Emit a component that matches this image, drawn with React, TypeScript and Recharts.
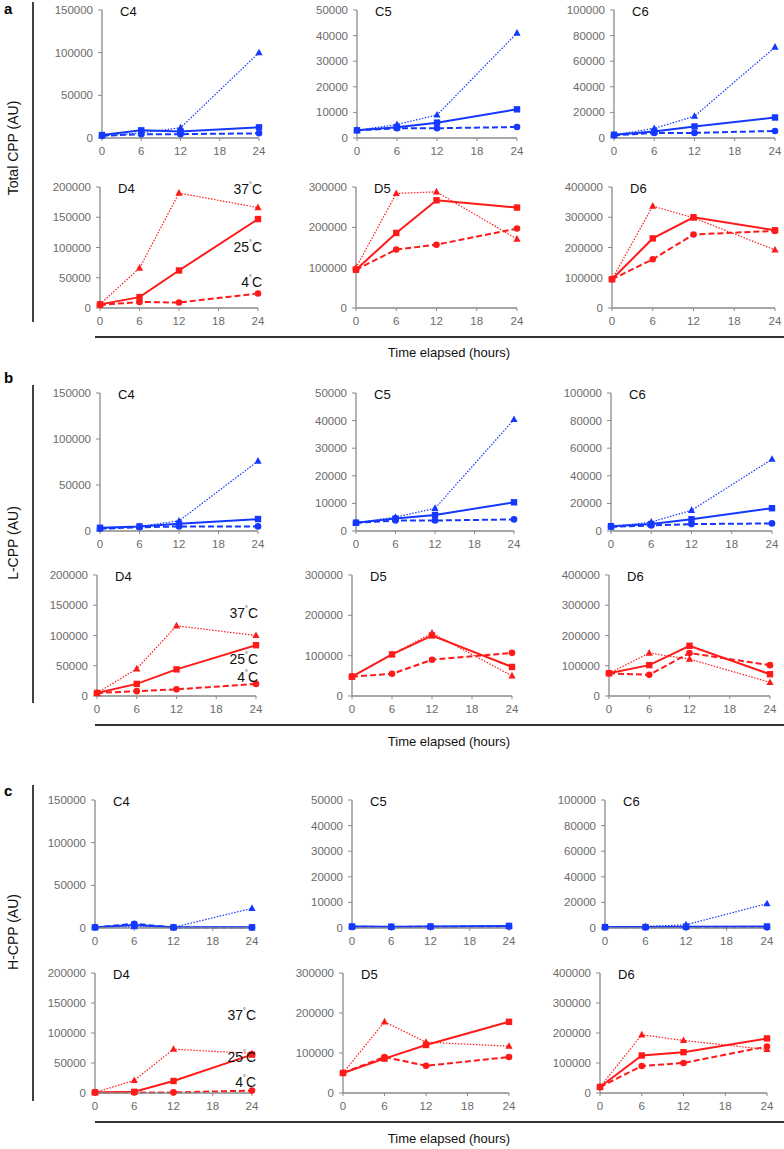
import { LineChart, Line, XAxis, YAxis } from 'recharts'

const HOURS = [0, 6, 12, 24]
const HOUR_TICKS = [0, 6, 12, 18, 24]

const TICKS_150K = [0, 50000, 100000, 150000]
const TICKS_50K = [0, 10000, 20000, 30000, 40000, 50000]
const TICKS_100K = [0, 20000, 40000, 60000, 80000, 100000]
const TICKS_200K = [0, 50000, 100000, 150000, 200000]
const TICKS_300K = [0, 100000, 200000, 300000]
const TICKS_400K = [0, 100000, 200000, 300000, 400000]

// a: Total CPP  (25 = solid/square, 4 = dashed/circle, 37 = dotted/triangle)
const totC4_25 = [3500, 9000, 7500, 12500]
const totC4_4 = [2500, 4500, 4500, 5500]
const totC4_37 = [2500, 6000, 12000, 100000]
const totC5_25 = [3000, 4200, 6000, 11200]
const totC5_4 = [3000, 3800, 3800, 4300]
const totC5_37 = [3000, 5300, 9000, 41000]
const totC6_25 = [2500, 5000, 9000, 16000]
const totC6_4 = [2000, 4000, 4000, 5500]
const totC6_37 = [2500, 7500, 17000, 71000]
const totD4_25 = [6000, 18000, 62000, 147000]
const totD4_4 = [5000, 10000, 9000, 24000]
const totD4_37 = [6000, 66000, 190000, 166000]
const totD5_25 = [95000, 186000, 267000, 249000]
const totD5_4 = [95000, 145000, 157000, 197000]
const totD5_37 = [100000, 284000, 288000, 171000]
const totD6_25 = [95000, 230000, 300000, 257000]
const totD6_4 = [95000, 161000, 243000, 255000]
const totD6_37 = [95000, 337000, 298000, 192000]

// b: L-CPP
const lowC4_25 = [3500, 5000, 8000, 13000]
const lowC4_4 = [2500, 4000, 5000, 5000]
const lowC4_37 = [2500, 5000, 11000, 76000]
const lowC5_25 = [3000, 4500, 5800, 10400]
const lowC5_4 = [3000, 3800, 3800, 4200]
const lowC5_37 = [3000, 5000, 8200, 40400]
const lowC6_25 = [3500, 5000, 8500, 16500]
const lowC6_4 = [3000, 4000, 5000, 5500]
const lowC6_37 = [3000, 6500, 15000, 52000]
const lowD4_25 = [5000, 20000, 44000, 84000]
const lowD4_4 = [5000, 8000, 11000, 20000]
const lowD4_37 = [5000, 45000, 116000, 100000]
const lowD5_25 = [48000, 103000, 150000, 72000]
const lowD5_4 = [48000, 55000, 90000, 107000]
const lowD5_37 = [48000, 103000, 156000, 50000]
const lowD6_25 = [75000, 102000, 166000, 72000]
const lowD6_4 = [75000, 70000, 142000, 102000]
const lowD6_37 = [75000, 142000, 122000, 45000]

// c: H-CPP
const highC4_25 = [800, 3500, 800, 800]
const highC4_4 = [500, 5000, 500, 500]
const highC4_37 = [800, 1500, 800, 23000]
const highC5_25 = [600, 500, 600, 800]
const highC5_4 = [500, 400, 500, 600]
const highC5_37 = [400, 400, 500, 700]
const highC6_25 = [700, 700, 1000, 1200]
const highC6_4 = [500, 500, 600, 600]
const highC6_37 = [700, 1200, 2500, 19000]
const highD4_25 = [1000, 2000, 20000, 64000]
const highD4_4 = [1000, 1000, 1000, 4000]
const highD4_37 = [1000, 21000, 73000, 66000]
const highD5_25 = [50000, 86000, 120000, 178000]
const highD5_4 = [50000, 90000, 68000, 90000]
const highD5_37 = [50000, 178000, 127000, 117000]
const highD6_25 = [20000, 125000, 136000, 182000]
const highD6_4 = [20000, 90000, 100000, 155000]
const highD6_37 = [20000, 194000, 175000, 145000]

const BLUE = '#1438ff'
const RED = '#ff1a1a'
const AXIS = '#8a8a8a'
const TICK = '#6b6b6b'
const FONT = "'Liberation Sans', Arial, sans-serif"

const YW = 70
const XH = 26
const MT = 8
const MR = 8

type ChartSpec = {
  title: string
  ax: number
  ex: number
  top: number
  zero: number
  ticks: number[]
  color: string
  s25: number[]
  s4: number[]
  s37: number[]
}

const square = (color: string) => (p: any) =>
  p.cx == null ? <g key={p.index} /> : (
    <rect key={p.index} x={p.cx - 3.2} y={p.cy - 3.2} width={6.4} height={6.4} fill={color} />
  )
const circle = (color: string) => (p: any) =>
  p.cx == null ? <g key={p.index} /> : <circle key={p.index} cx={p.cx} cy={p.cy} r={3.3} fill={color} />
const triangle = (color: string) => (p: any) =>
  p.cx == null ? <g key={p.index} /> : (
    <path key={p.index} d={`M${p.cx},${p.cy - 4} L${p.cx + 3.6},${p.cy + 2.6} L${p.cx - 3.6},${p.cy + 2.6} Z`} fill={color} />
  )

function SmallChart({ spec }: { spec: ChartSpec }) {
  const { ax, ex, top, zero, ticks, color, s25, s4, s37 } = spec
  const w = YW + (ex - ax) + MR
  const h = MT + (zero - top) + XH
  const data = HOURS.map((t, i) => ({ t, a: s25[i], b: s4[i], c: s37[i] }))
  const tickStyle = { fontSize: 11.5, fill: TICK, fontFamily: FONT }
  return (
    <div style={{ position: 'absolute', left: ax - YW, top: top - MT, width: w, height: h }}>
      <LineChart width={w} height={h} data={data} margin={{ top: MT, right: MR, bottom: 0, left: 0 }} style={{ overflow: 'visible' }}>
        <XAxis
          type="number"
          dataKey="t"
          domain={[0, 24]}
          ticks={HOUR_TICKS}
          interval={0}
          height={XH}
          tick={tickStyle}
          tickSize={3}
          tickMargin={6}
          axisLine={{ stroke: AXIS, strokeWidth: 1.3 }}
          tickLine={{ stroke: AXIS }}
        />
        <YAxis
          type="number"
          domain={[0, ticks[ticks.length - 1]]}
          ticks={ticks}
          interval={0}
          width={YW}
          tick={tickStyle}
          tickSize={4}
          tickMargin={5}
          axisLine={{ stroke: AXIS, strokeWidth: 1.3 }}
          tickLine={{ stroke: AXIS }}
        />
        <Line dataKey="c" stroke={color} strokeWidth={1.2} strokeDasharray="1.5 1.5" dot={triangle(color)} isAnimationActive={false} />
        <Line dataKey="b" stroke={color} strokeWidth={2} strokeDasharray="6 3" dot={circle(color)} isAnimationActive={false} />
        <Line dataKey="a" stroke={color} strokeWidth={2} dot={square(color)} isAnimationActive={false} />
      </LineChart>
    </div>
  )
}

type Panel = {
  letter: string
  ylabel: string
  letterY: number
  barTop: number
  barBottom: number
  ylabelY: number
  lineY: number
  xlabelY: number
  tempX: number
  tempY: number[]
  charts: ChartSpec[]
}

const PANELS: Panel[] = [
  {
    letter: 'a', ylabel: 'Total CPP (AU)', letterY: 8, barTop: 2, barBottom: 322, ylabelY: 148,
    lineY: 337, xlabelY: 352, tempX: 262, tempY: [189, 247, 282],
    charts: [
      { title: 'C4', ax: 102, ex: 259, top: 10, zero: 138, ticks: TICKS_150K, color: BLUE, s25: totC4_25, s4: totC4_4, s37: totC4_37 },
      { title: 'C5', ax: 357, ex: 517, top: 10, zero: 138, ticks: TICKS_50K, color: BLUE, s25: totC5_25, s4: totC5_4, s37: totC5_37 },
      { title: 'C6', ax: 614, ex: 775, top: 10, zero: 138, ticks: TICKS_100K, color: BLUE, s25: totC6_25, s4: totC6_4, s37: totC6_37 },
      { title: 'D4', ax: 100, ex: 258, top: 187, zero: 308, ticks: TICKS_200K, color: RED, s25: totD4_25, s4: totD4_4, s37: totD4_37 },
      { title: 'D5', ax: 356, ex: 517, top: 187, zero: 308, ticks: TICKS_300K, color: RED, s25: totD5_25, s4: totD5_4, s37: totD5_37 },
      { title: 'D6', ax: 612, ex: 775, top: 187, zero: 308, ticks: TICKS_400K, color: RED, s25: totD6_25, s4: totD6_4, s37: totD6_37 },
    ],
  },
  {
    letter: 'b', ylabel: 'L-CPP (AU)', letterY: 377, barTop: 385, barBottom: 703, ylabelY: 543,
    lineY: 725, xlabelY: 741, tempX: 258, tempY: [613, 659, 677],
    charts: [
      { title: 'C4', ax: 100, ex: 258, top: 393, zero: 531, ticks: TICKS_150K, color: BLUE, s25: lowC4_25, s4: lowC4_4, s37: lowC4_37 },
      { title: 'C5', ax: 356, ex: 514, top: 393, zero: 531, ticks: TICKS_50K, color: BLUE, s25: lowC5_25, s4: lowC5_4, s37: lowC5_37 },
      { title: 'C6', ax: 611, ex: 772, top: 393, zero: 531, ticks: TICKS_100K, color: BLUE, s25: lowC6_25, s4: lowC6_4, s37: lowC6_37 },
      { title: 'D4', ax: 97, ex: 256, top: 575, zero: 696, ticks: TICKS_200K, color: RED, s25: lowD4_25, s4: lowD4_4, s37: lowD4_37 },
      { title: 'D5', ax: 352, ex: 512, top: 575, zero: 696, ticks: TICKS_300K, color: RED, s25: lowD5_25, s4: lowD5_4, s37: lowD5_37 },
      { title: 'D6', ax: 609, ex: 770, top: 575, zero: 696, ticks: TICKS_400K, color: RED, s25: lowD6_25, s4: lowD6_4, s37: lowD6_37 },
    ],
  },
  {
    letter: 'c', ylabel: 'H-CPP (AU)', letterY: 790, barTop: 785, barBottom: 1101, ylabelY: 932,
    lineY: 1122, xlabelY: 1138, tempX: 256, tempY: [1015, 1057, 1082],
    charts: [
      { title: 'C4', ax: 95, ex: 252, top: 800, zero: 928, ticks: TICKS_150K, color: BLUE, s25: highC4_25, s4: highC4_4, s37: highC4_37 },
      { title: 'C5', ax: 352, ex: 509, top: 800, zero: 928, ticks: TICKS_50K, color: BLUE, s25: highC5_25, s4: highC5_4, s37: highC5_37 },
      { title: 'C6', ax: 605, ex: 767, top: 800, zero: 928, ticks: TICKS_100K, color: BLUE, s25: highC6_25, s4: highC6_4, s37: highC6_37 },
      { title: 'D4', ax: 95, ex: 252, top: 973, zero: 1093, ticks: TICKS_200K, color: RED, s25: highD4_25, s4: highD4_4, s37: highD4_37 },
      { title: 'D5', ax: 343, ex: 509, top: 973, zero: 1093, ticks: TICKS_300K, color: RED, s25: highD5_25, s4: highD5_4, s37: highD5_37 },
      { title: 'D6', ax: 600, ex: 767, top: 973, zero: 1093, ticks: TICKS_400K, color: RED, s25: highD6_25, s4: highD6_4, s37: highD6_37 },
    ],
  },
]

const TEMPS = ['37', '25', '4']

function Overlay() {
  return (
    <svg width={784} height={1149} style={{ position: 'absolute', left: 0, top: 0, pointerEvents: 'none' }}>
      {PANELS.map(p => (
        <g key={p.letter} fontFamily={FONT}>
          <text x={4} y={p.letterY} dominantBaseline="central" fontSize={15} fontWeight="bold" fill="#000">{p.letter}</text>
          <line x1={33} x2={33} y1={p.barTop} y2={p.barBottom} stroke="#111" strokeWidth={1.6} />
          <text
            x={13}
            y={p.ylabelY}
            transform={`rotate(-90 13 ${p.ylabelY})`}
            textAnchor="middle"
            dominantBaseline="central"
            fontSize={14}
            fill="#111"
          >
            {p.ylabel}
          </text>
          <line x1={95} x2={784} y1={p.lineY} y2={p.lineY} stroke="#333" strokeWidth={2} />
          <text x={449} y={p.xlabelY} textAnchor="middle" dominantBaseline="central" fontSize={13} fill="#111">
            Time elapsed (hours)
          </text>
          {p.charts.map(c => (
            <text key={c.title} x={c.ax + 18} y={c.top + 1} dominantBaseline="central" fontSize={13} fill="#111">
              {c.title}
            </text>
          ))}
          {TEMPS.map((t, i) => (
            <text key={t} x={p.tempX} y={p.tempY[i]} textAnchor="end" dominantBaseline="central" fontSize={14} fill="#111">
              {t}
              <tspan fontSize={7} dy={-5}>°</tspan>
              <tspan dy={5}>C</tspan>
            </text>
          ))}
        </g>
      ))}
    </svg>
  )
}

export default function App() {
  return (
    <div style={{ position: 'absolute', left: 0, top: 0, width: 784, height: 1149, background: '#fff' }}>
      {PANELS.map(p => p.charts.map(c => <SmallChart key={p.letter + c.title} spec={c} />))}
      <Overlay />
    </div>
  )
}
